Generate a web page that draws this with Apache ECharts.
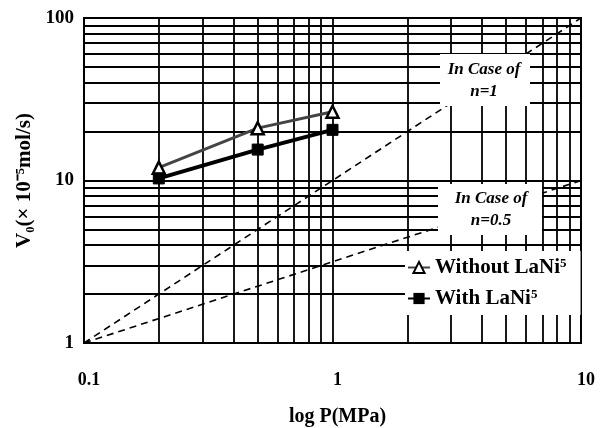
<!DOCTYPE html>
<html>
<head>
<meta charset="utf-8">
<script src="https://cdn.jsdelivr.net/npm/echarts@6/dist/echarts.min.js"></script>
<style>html,body{margin:0;padding:0;background:#fff}#c{width:605px;height:428px}</style>
</head>
<body>
<div id="c"></div>
<script>
// ---- data ----
const pressure = [0.2, 0.5, 1.0];
const withoutLaNi5 = [12.0, 21.0, 26.5];
const withLaNi5 = [10.3, 15.5, 20.5];
const refX = [0.1, 10];
const caseN1 = [1, 100];
const caseN05 = [1, 10];
const xMinor = [0.2, 0.3, 0.4, 0.5, 0.6, 0.7, 0.8, 0.9, 2, 3, 4, 5, 6, 7, 8, 9];
const yMinor = [2, 3, 4, 5, 6, 7, 8, 9, 20, 30, 40, 50, 60, 70, 80, 90];
const xTicks = [0.1, 1, 10];
const yTicks = [1, 10, 100];

const FONT = '"Liberation Serif", "Times New Roman", serif';
const chart = echarts.init(document.getElementById('c'), null, {renderer: 'canvas'});

const gridLine = {color: '#000', width: 1.8, type: 'solid'};
const minorLines = xMinor.map(v => ({xAxis: v})).concat(yMinor.map(v => ({yAxis: v})));

chart.setOption({
  animation: false,
  backgroundColor: '#fff',
  grid: {left: 84, right: 24, top: 18, bottom: 85, show: true, borderColor: '#000', borderWidth: 2,
         backgroundColor: 'transparent', containLabel: false, outerBoundsMode: 'none'},
  xAxis: {
    type: 'log', logBase: 10, min: 0.1, max: 10,
    name: 'log P(MPa)', nameLocation: 'middle', nameGap: 64,
    nameTextStyle: {fontFamily: FONT, fontWeight: 'bold', fontSize: 20, color: '#000', padding: [0, 0, 0, 10]},
    axisLine: {show: true, lineStyle: {color: '#000', width: 2}},
    axisTick: {show: false},
    axisLabel: {
      margin: 28, fontFamily: FONT, fontWeight: 'bold', fontSize: 18, color: '#000', padding: [0, 0, 0, 10],
      formatter: v => { const m = xTicks.find(t => Math.abs(t - v) < 1e-9); return m === undefined ? '' : String(m); }
    },
    splitLine: {show: true, lineStyle: gridLine}
  },
  yAxis: {
    type: 'log', logBase: 10, min: 1, max: 100,
    name: 'V₀(× 10⁻⁵mol/s)', nameLocation: 'middle', nameGap: 48, nameRotate: 90,
    nameTextStyle: {fontFamily: FONT, fontWeight: 'bold', fontSize: 21, color: '#000'},
    axisLine: {show: true, lineStyle: {color: '#000', width: 2}},
    axisTick: {show: false},
    axisLabel: {
      margin: 10, fontFamily: FONT, fontWeight: 'bold', fontSize: 19, color: '#000',
      formatter: v => { const m = yTicks.find(t => Math.abs(t - v) < 1e-9); return m === undefined ? '' : String(m); }
    },
    splitLine: {show: true, lineStyle: gridLine}
  },
  legend: {
    left: 405, top: 251, orient: 'vertical', z: 50,
    backgroundColor: '#fff', padding: [6, 14, 6, 2], itemGap: 10,
    itemWidth: 22, itemHeight: 14,
    textStyle: {fontFamily: FONT, fontWeight: 'bold', fontSize: 21, color: '#000',
      rich: {a: {fontFamily: FONT, fontWeight: 'bold', fontSize: 21, color: '#000'},
             b: {fontFamily: FONT, fontWeight: 'bold', fontSize: 13, color: '#000', verticalAlign: 'top', padding: [0, 0, 6, 0]}}},
    formatter: n => n === 'Without LaNi5' ? '{a|Without LaNi}{b|5}' : '{a|With LaNi}{b|5}',
    data: ['Without LaNi5', 'With LaNi5']
  },
  graphic: [
    {type: 'group', z: 100, children: [
      {type: 'rect', shape: {x: 440, y: 54, width: 90, height: 52}, style: {fill: '#fff'}, z: 100},
      {type: 'text', x: 484, y: 81, z: 101, style: {text: 'In Case of\nn=1', fill: '#000', font: 'italic bold 17px ' + FONT, align: 'center', verticalAlign: 'middle', lineHeight: 22}}
    ]},
    {type: 'group', z: 100, children: [
      {type: 'rect', shape: {x: 438, y: 184, width: 104, height: 51}, style: {fill: '#fff'}, z: 100},
      {type: 'text', x: 491, y: 210, z: 101, style: {text: 'In Case of\nn=0.5', fill: '#000', font: 'italic bold 17px ' + FONT, align: 'center', verticalAlign: 'middle', lineHeight: 22}}
    ]}
  ],
  series: [
    {
      name: 'grid-minor', type: 'line', data: [], silent: true, z: 1,
      markLine: {silent: true, symbol: ['none', 'none'], label: {show: false}, lineStyle: gridLine, z: 1, animation: false, data: minorLines}
    },
    {
      name: 'n=1', type: 'line', data: refX.map((x, i) => [x, caseN1[i]]), symbol: 'none', silent: true, z: 3,
      lineStyle: {color: '#000', width: 1.6, type: [7, 5]}
    },
    {
      name: 'n=0.5', type: 'line', data: refX.map((x, i) => [x, caseN05[i]]), symbol: 'none', silent: true, z: 3,
      lineStyle: {color: '#000', width: 1.6, type: [7, 5]}
    },
    {
      name: 'Without LaNi5', type: 'line', data: pressure.map((x, i) => [x, withoutLaNi5[i]]), z: 10,
      symbol: 'triangle', symbolSize: 12,
      itemStyle: {color: '#fff', borderColor: '#000', borderWidth: 2.5},
      lineStyle: {color: '#444', width: 3}
    },
    {
      name: 'With LaNi5', type: 'line', data: pressure.map((x, i) => [x, withLaNi5[i]]), z: 10,
      symbol: 'rect', symbolSize: 11,
      itemStyle: {color: '#000', borderColor: '#000'},
      lineStyle: {color: '#000', width: 4}
    }
  ]
});
</script>
</body>
</html>
